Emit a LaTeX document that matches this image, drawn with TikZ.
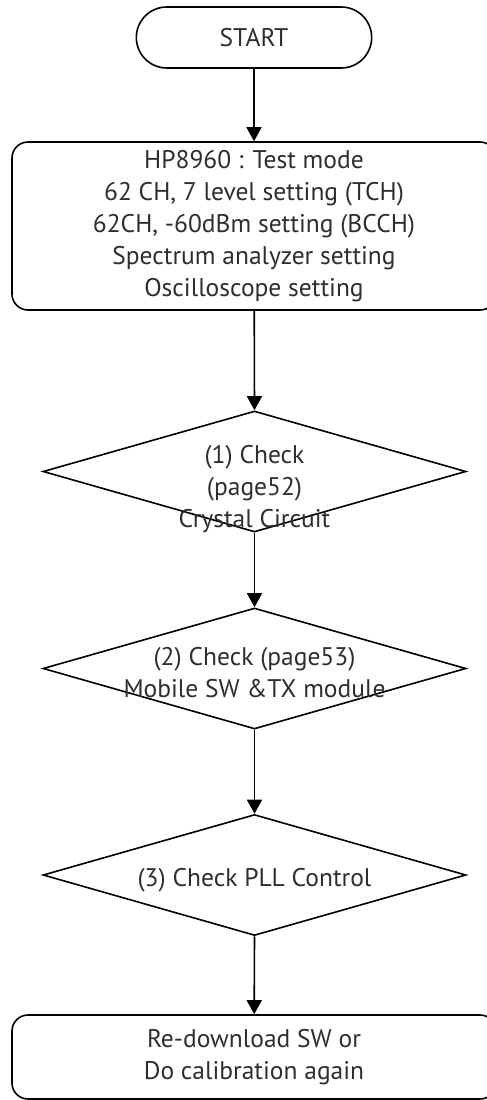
\documentclass[tikz,border=0pt]{standalone}
\usepackage{fontspec}
\setmainfont{PT Sans}
\usetikzlibrary{shapes.geometric,shapes.misc,arrows.meta}

\begin{document}
\begin{tikzpicture}[x=1pt, y=-1pt, line width=1.6pt,
    every node/.style={text=black!82, font=\fontsize{25.5}{32}\selectfont, align=center},
    startbox/.style={draw=black, rounded rectangle, minimum width=242pt, minimum height=61pt},
    stepbox/.style={draw=black, rounded corners=16pt, minimum width=484pt},
    checkbox/.style={draw=black, diamond, minimum width=423pt, minimum height=121pt, inner sep=0pt},
    flow/.style={-{Triangle[length=14pt,width=15pt]}}]
    \useasboundingbox (0,0) rectangle (487,1100);

    % start and setting box
    \node[startbox] (start) at (254,37.5) {START};
    \node[stepbox, minimum height=168pt] (setup) at (254,226) {HP8960 : Test mode\\
        62 CH, 7 level setting (TCH)\\62CH, -60dBm setting (BCCH)\\
        Spectrum analyzer setting\\Oscilloscope setting};

    % three checks
    \node[checkbox] (chk1) at (254.5,471.5) {};
    \node (chk1txt) at (254.5,489) {(1) Check\\(page52)\\Crystal Circuit};
    \node[checkbox] (chk2) at (254.5,668.5) {};
    \node (chk2txt) at (254.5,673) {(2) Check (page53)\\Mobile SW \&TX module};
    \node[checkbox] (chk3) at (254.5,875) {};
    \node (chk3txt) at (254.5,880) {(3) Check PLL Control};

    % end box
    \node[stepbox, minimum height=84pt] (redo) at (254,1057) {Re-download SW or\\Do calibration again};

    \draw[flow] (start) -- (setup);
    \draw[flow] (setup) -- (chk1.north);
    \draw[flow] (chk1.south) -- (chk2.north);
    \draw[flow] (chk2.south) -- (chk3.north);
    \draw[flow] (chk3.south) -- (redo);
\end{tikzpicture}
\end{document}
